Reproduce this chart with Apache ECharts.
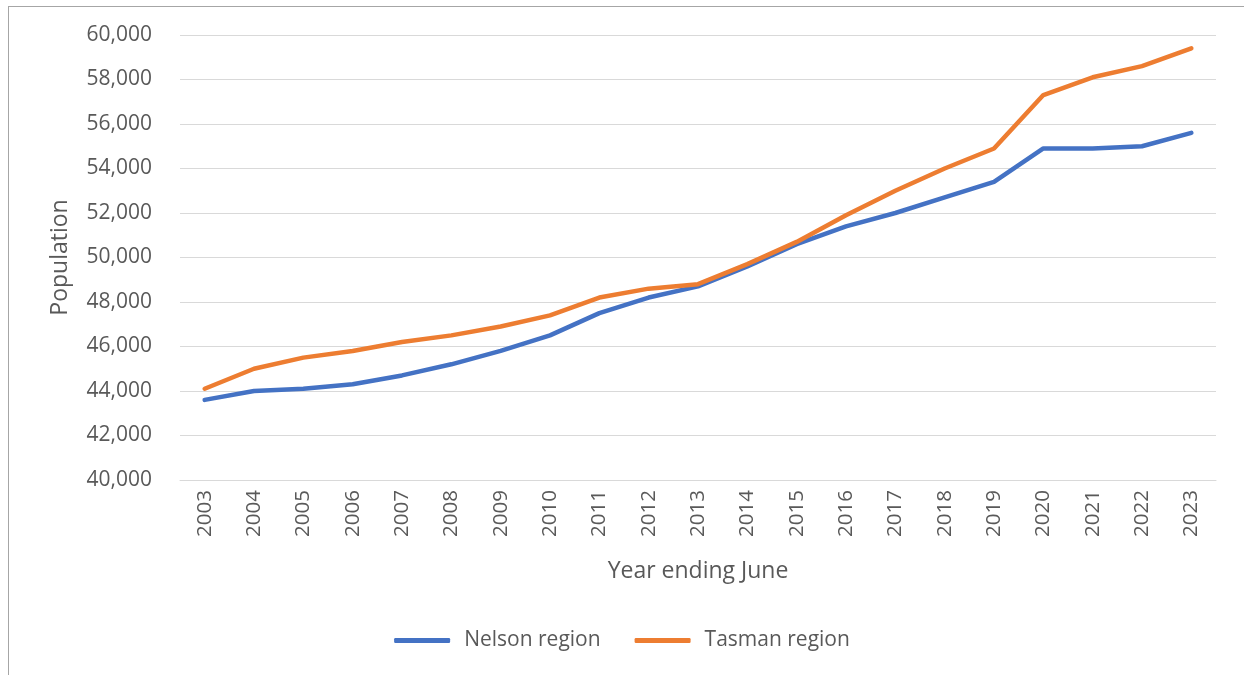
<!DOCTYPE html>
<html><head><meta charset="utf-8">
<script src="https://cdn.jsdelivr.net/npm/echarts@6/dist/echarts.min.js"></script>
<style>
html,body{margin:0;padding:0;background:#fff;}
#frame{position:absolute;left:8px;top:6px;width:1300px;height:700px;border-left:1px solid #a6a6a6;border-top:1px solid #a6a6a6;}
#c{position:absolute;left:0;top:0;width:1244px;height:675px;}
</style></head>
<body>
<div id="frame"></div>
<div id="c"></div>
<script>
const years = ['2003','2004','2005','2006','2007','2008','2009','2010','2011','2012','2013','2014','2015','2016','2017','2018','2019','2020','2021','2022','2023'];
const nelson = [43600,44000,44100,44300,44700,45200,45800,46500,47500,48200,48700,49600,50600,51400,52000,52700,53400,54900,54900,55000,55600];
const tasman = [44100,45000,45500,45800,46200,46500,46900,47400,48200,48600,48800,49700,50700,51900,53000,54000,54900,57300,58100,58600,59400];
const font = "'Open Sans', 'Noto Sans', sans-serif";
const chart = echarts.init(document.getElementById('c'), null, {renderer:'canvas'});
chart.setOption({
  animation:false,
  textStyle:{fontFamily:font},
  grid:{left:180, right:28, top:35, bottom:195, containLabel:false},
  legend:{bottom:19, left:'center', itemWidth:56, itemHeight:5, itemGap:34,
    icon:'roundRect',
    textStyle:{fontFamily:font, fontSize:21, color:'#595959', padding:[0,0,0,9]},
    data:['Nelson region','Tasman region']},
  xAxis:{type:'category', data:years, boundaryGap:true,
    name:'Year ending June', nameLocation:'middle', nameGap:80,
    nameTextStyle:{fontFamily:font, fontSize:23, color:'#595959'},
    axisLine:{show:true, lineStyle:{color:'#d9d9d9', width:1}},
    axisTick:{show:false},
    axisLabel:{rotate:90, fontFamily:font, fontSize:20.5, color:'#595959', margin:10}},
  yAxis:{type:'value', min:40000, max:60000, interval:2000,
    name:'Population', nameLocation:'middle', nameGap:108, nameRotate:90,
    nameTextStyle:{fontFamily:font, fontSize:23, color:'#595959'},
    axisLine:{show:false}, axisTick:{show:false},
    axisLabel:{fontFamily:font, fontSize:21, color:'#595959', margin:28,
      formatter:v=>v.toLocaleString('en-US')},
    splitLine:{lineStyle:{color:'#d9d9d9', width:1}}},
  series:[
    {name:'Nelson region', type:'line', data:nelson, symbol:'none', smooth:false,
      lineStyle:{color:'#4472C4', width:4.5, cap:'round', join:'round'}, itemStyle:{color:'#4472C4'}},
    {name:'Tasman region', type:'line', data:tasman, symbol:'none', smooth:false,
      lineStyle:{color:'#ED7D31', width:4.5, cap:'round', join:'round'}, itemStyle:{color:'#ED7D31'}}
  ]
});
</script>
</body></html>
